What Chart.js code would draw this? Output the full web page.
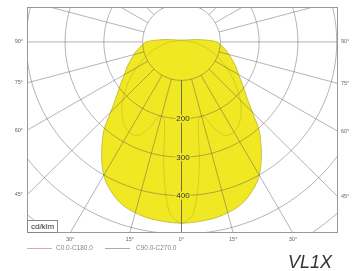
<!DOCTYPE html>
<html><head><meta charset="utf-8">
<script src="https://cdn.jsdelivr.net/npm/chart.js@4/dist/chart.umd.min.js"></script>
<style>
html,body{margin:0;padding:0;background:#fff;width:355px;height:271px;overflow:hidden;font-family:'Liberation Sans',Arial,sans-serif}
#wrap{position:relative;width:355px;height:271px}
#c{position:absolute;left:0;top:0}
#unit{position:absolute;left:27px;top:220px;width:29px;height:11px;border:1px solid #888;background:#fff;font-size:8px;line-height:11px;color:#333;text-align:center}
.ln{position:absolute;height:1px;top:248px}
.lt{position:absolute;top:244px;font-size:6.5px;line-height:8px;color:#888;white-space:nowrap}
#name{position:absolute;left:288px;top:253px;font-size:18px;line-height:18px;font-style:italic;color:#333}
</style></head>
<body>
<div id="wrap">
<canvas id="c" width="355" height="245"></canvas>
<div id="unit">cd/klm</div>
<div class="ln" style="left:27px;width:25px;background:#e8a4a4"></div>
<div class="lt" style="left:56px">C0.0-C180.0</div>
<div class="ln" style="left:105px;width:25px;background:#aaa"></div>
<div class="lt" style="left:136px">C90.0-C270.0</div>
<div id="name">VL1X</div>
</div>
<script>
// ---- data (angles in degrees from nadir, intensities in cd/klm) ----
const c0Angles = [0,10,17,22,28,32,36,41,45,50,55,60,65,70,75,80,85,90,95,100,110,120,135,150,165,180];
const c0Values = [472,467,457,443,414,385,350,305,258,218,192,170,155,140,127,115,103,92,60,35,15,10,7,6,5,5];
const c90Angles = [0,4,8,12,16,20,24,28,33,38,45,55,65,75,90,100,120,180];
const c90Values = [472,445,330,210,200,235,265,272,265,248,215,160,110,72,30,12,6,4];
const ringValues = [100,200,300,400,500,600,700];
const ringLabels = ['200','300','400'];
const spokeAngles = [0,15,30,45,60,75,90,105,120,135,150,165,180,195,210,225,240,255,270,285,300,315,330,345];
const sideTickAngles = [90,75,60,45];
const sideTickLabels = ['90°','75°','60°','45°'];
const bottomTickAngles = [-30,-15,0,15,30];
const bottomTickLabels = ['30°','15°','0°','15°','30°'];

const PXU = 0.388;
const X_MIN = -154.5/PXU, X_MAX = 156.5/PXU, Y_MAX = 35/PXU, Y_MIN = -193/PXU;
const rad = d => d*Math.PI/180;
const pol = (a, r) => ({x: r*Math.sin(rad(a)), y: -r*Math.cos(rad(a))});

function closedCurve(angles, values){
  const pts = [];
  for (let i = angles.length-1; i >= 0; i--) pts.push(pol(-angles[i], values[i]));
  for (let i = 1; i < angles.length; i++) pts.push(pol(angles[i], values[i]));
  return pts;
}

const gridColor = 'rgba(85,85,85,0.52)';
const datasets = [];
ringValues.forEach(r => {
  const pts = [];
  for (let a = 0; a <= 360; a += 3) pts.push(pol(a, r));
  datasets.push({data: pts, showLine: true, borderColor: gridColor, borderWidth: 0.85, pointRadius: 0, fill: false, tension: 0.2, order: 1});
});
spokeAngles.forEach(a => {
  datasets.push({data: [pol(a, 100), pol(a, 3000)], showLine: true, borderColor: gridColor, borderWidth: 0.85, pointRadius: 0, fill: false, order: 1});
});
datasets.push({label: 'C90.0-C270.0', data: closedCurve(c90Angles, c90Values), showLine: true, borderColor: 'rgba(140,130,30,0.45)', borderWidth: 0.6, pointRadius: 0, fill: false, tension: 0.3, order: 2});
datasets.push({label: 'C0.0-C180.0', data: closedCurve(c0Angles, c0Values), showLine: true, borderColor: 'rgb(190,180,45)', backgroundColor: 'rgb(240,232,35)', borderWidth: 0.8, pointRadius: 0, fill: 'shape', tension: 0.3, order: 10});

const framePlugin = {
  id: 'frame',
  afterDatasetsDraw(chart){
    const {ctx, chartArea: ca, scales} = chart;
    ctx.save();
    ctx.font = '8px "Liberation Sans", Arial, sans-serif';
    ctx.textAlign = 'center'; ctx.textBaseline = 'middle';
    ringLabels.forEach(t => {
      const px = scales.x.getPixelForValue(0) + 1.5;
      const py = scales.y.getPixelForValue(-Number(t));
      const w = ctx.measureText(t).width;
      ctx.fillStyle = 'rgb(240,232,35)';
      ctx.fillRect(px - w/2 - 1, py - 4, w + 2, 8);
      ctx.fillStyle = '#333';
      ctx.fillText(t, px, py + 0.5);
    });
    ctx.strokeStyle = '#999'; ctx.lineWidth = 1;
    ctx.strokeRect(Math.round(ca.left)+0.5, Math.round(ca.top)+0.5, Math.round(ca.right-ca.left)-1, Math.round(ca.bottom-ca.top)-1);
    ctx.restore();
  }
};

const tickFont = {size: 5.5, family: '"Liberation Sans", Arial, sans-serif'};
const noGrid = {display: false, drawTicks: false, tickLength: 0};
new Chart(document.getElementById('c'), {
  type: 'scatter',
  data: {datasets},
  options: {
    responsive: false, animation: false, devicePixelRatio: 1,
    layout: {padding: {top: 5, left: 0, right: 0, bottom: 0}},
    plugins: {legend: {display: false}, tooltip: {enabled: false}},
    scales: {
      x: {type: 'linear', position: 'bottom', min: X_MIN, max: X_MAX,
          grid: noGrid, border: {display: false},
          afterBuildTicks: s => { s.ticks = bottomTickAngles.map(a => ({value: -Y_MIN*Math.tan(rad(a))})); },
          afterFit: s => { s.height = 12; },
          ticks: {autoSkip: false, maxRotation: 0, padding: 3, color: '#666', font: tickFont,
                  callback: (v, i) => bottomTickLabels[i]}},
      y: {type: 'linear', position: 'left', min: Y_MIN, max: Y_MAX,
          grid: noGrid, border: {display: false},
          afterBuildTicks: s => { s.ticks = sideTickAngles.map(a => ({value: X_MIN/Math.tan(rad(a))})); },
          afterFit: s => { s.width = 27; },
          ticks: {autoSkip: false, padding: 4, color: '#666', font: tickFont,
                  callback: (v, i) => sideTickLabels[i]}},
      y2: {type: 'linear', position: 'right', min: Y_MIN, max: Y_MAX,
          grid: noGrid, border: {display: false},
          afterBuildTicks: s => { s.ticks = sideTickAngles.map(a => ({value: -X_MAX/Math.tan(rad(a))})); },
          afterFit: s => { s.width = 17; },
          ticks: {autoSkip: false, padding: 3, color: '#666', font: tickFont,
                  callback: (v, i) => sideTickLabels[i]}}
    }
  },
  plugins: [framePlugin]
});
</script>
</body></html>
